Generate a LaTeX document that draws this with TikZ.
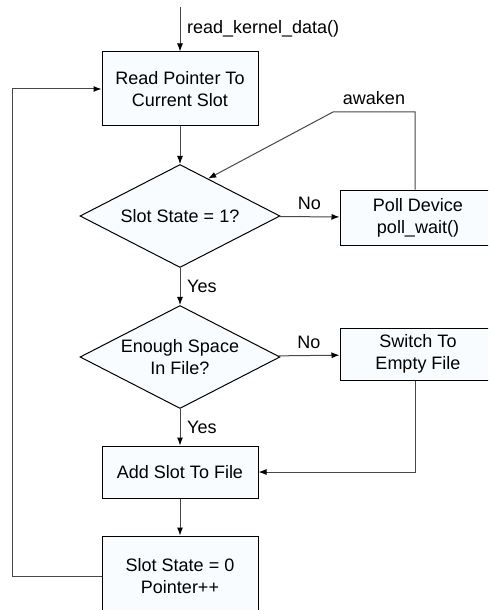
\documentclass[tikz,border=0pt]{standalone}
\usepackage{fontspec}
\setmainfont{Liberation Sans}
\usetikzlibrary{shapes.geometric,arrows.meta}
\definecolor{slotfill}{RGB}{248,252,255}

\begin{document}
\begin{tikzpicture}[x=0.5pt, y=-0.5pt, line width=0.5pt,
	every node/.style={font=\fontsize{9}{11}\selectfont},
	stepbox/.style={shape=rectangle, draw, fill=slotfill, align=center,
		minimum width=78pt, inner sep=0pt},
	sidebox/.style={stepbox, minimum width=100pt},
	test/.style={shape=diamond, draw, fill=slotfill, align=center, aspect=2,
		minimum width=100pt, minimum height=51.5pt, inner sep=0pt},
	flow/.style={draw=black!72, -{Latex[length=4pt,width=3pt,color=black]}}]
	\useasboundingbox (0,0) rectangle (488,610);
	\clip (0,0) rectangle (488,610);
	\node[stepbox, minimum height=37pt] (read) at (180,89) {Read Pointer To\\Current Slot};
	\node[test] (state) at (180,216) {Slot State = 1?};
	% side boxes run past the right edge, text kept off-centre
	\node[sidebox, minimum height=27.5pt] (poll) at (440,217.5)
		{Poll Device\hspace*{22pt}\\poll\_wait()\hspace*{22pt}};
	\node[test] (space) at (180,357) {Enough Space\\In File?};
	\node[sidebox, minimum height=26pt] (switch) at (440,354)
		{Switch To\hspace*{22pt}\\Empty File\hspace*{22pt}};
	\node[stepbox, minimum height=26pt] (add) at (180,472) {Add Slot To File};
	\node[stepbox, minimum height=40pt] (clear) at (180,576) {Slot State = 0\\Pointer++};
	\coordinate (entry) at (180,7);
	\coordinate (wake) at (333,112);
	% main line
	\draw[flow] (entry) -- node[right, black] {read\_kernel\_data()} (read.north);
	\draw[flow] (read) -- (state);
	\draw[flow] (state) -- node[right] {Yes} (space);
	\draw[flow] (space) -- node[right] {Yes} (add);
	\draw[flow] (add) -- (clear);
	% side branches
	\draw[flow] (state) -- node[above] {No} (poll);
	\draw[flow] ([xshift=-12.5pt]poll.north) |- (wake) node[pos=0.75, above] {awaken} -- (state.53);
	\draw[flow] (space) -- node[above] {No} (switch);
	\draw[flow] ([xshift=-12.5pt]switch.south) |- (add.east);
	% loop back
	\draw[flow] (clear.west) -- ++(-89,0) |- (read.west);
\end{tikzpicture}
\end{document}
